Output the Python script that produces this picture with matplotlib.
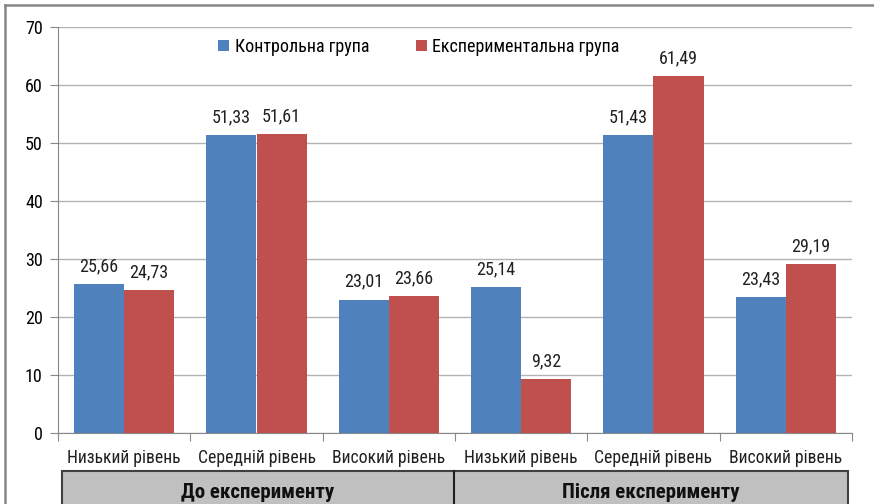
import matplotlib.pyplot as plt
import numpy as np
from matplotlib.patches import Rectangle
from matplotlib.lines import Line2D

categories = ['Низький рівень', 'Середній рівень', 'Високий рівень',
              'Низький рівень', 'Середній рівень', 'Високий рівень']
groups = ['До експерименту', 'Після експерименту']
control = [25.66, 51.33, 23.01, 25.14, 51.43, 23.43]
experimental = [24.73, 51.61, 23.66, 9.32, 61.49, 29.19]
series_names = ['Контрольна група', 'Експериментальна група']

plt.rcParams['font.family'] = ['DejaVu Sans Condensed', 'Roboto Condensed',
                               'Liberation Sans Narrow', 'Roboto', 'DejaVu Sans']

W, H = 874, 504
fig = plt.figure(figsize=(W / 100, H / 100), dpi=100)

def fx(px):
    return px / W

def fy(py):
    return 1 - py / H

# рамка навколо діаграми
fig.add_artist(Line2D([fx(5), fx(5)], [fy(5), 0], color='#868686', lw=1.8))
fig.add_artist(Line2D([fx(5), 1], [fy(5), fy(5)], color='#868686', lw=1.8))

ax = fig.add_axes([fx(58), fy(433), fx(852 - 58), (433 - 27) / H])

x = np.arange(len(categories))
w = 0.378
b1 = ax.bar(x - w / 2, control, w, color='#4f81bd', label=series_names[0], zorder=3)
b2 = ax.bar(x + w / 2, experimental, w, color='#c0504d', label=series_names[1], zorder=3)

for bars in (b1, b2):
    for r in bars:
        v = r.get_height()
        ax.text(r.get_x() + r.get_width() / 2, v + 1.5, f'{v:.2f}'.replace('.', ','),
                ha='center', va='bottom', fontsize=13, color='#202020')

ax.set_xlim(-0.5, len(categories) - 0.5)
ax.set_ylim(0, 70)
ax.set_yticks(range(0, 71, 10))
ax.tick_params(axis='y', labelsize=13, length=6, color='#888888', pad=5)
ax.yaxis.grid(True, color='#b3b3b3', lw=1, zorder=0)
ax.set_xticks(np.arange(-0.5, len(categories), 1))
ax.set_xticklabels([])
ax.tick_params(axis='x', length=6, color='#888888')
for s in ['top', 'right']:
    ax.spines[s].set_visible(False)
for s in ['left', 'bottom']:
    ax.spines[s].set_color('#888888')

for i, c in enumerate(categories):
    fig.text(fx(58 + (i + 0.5) * (852 - 58) / 6), fy(458), c,
             ha='center', va='center', fontsize=12.7, color='#202020')

# блок з групами
fig.add_artist(Rectangle((fx(62), fy(515)), fx(848 - 62), (515 - 471) / H,
                         facecolor='#c0c0c0', edgecolor='#404040', lw=1.5))
fig.add_artist(Line2D([fx(454), fx(454)], [fy(471), 0], color='#202020', lw=1.5))
fig.text(fx((62 + 454) / 2), fy(492), groups[0], ha='center', va='center',
         fontsize=15, color='#101010', fontweight='bold')
fig.text(fx((454 + 848) / 2), fy(492), groups[1], ha='center', va='center',
         fontsize=15, color='#101010', fontweight='bold')

ax.legend(loc='center', bbox_to_anchor=(fx(419 - 58) / fx(852 - 58), (433 - 47) / (433 - 27)),
          ncol=2, frameon=False, fontsize=13, handlelength=0.6, handleheight=0.6,
          handletextpad=0.3, columnspacing=2.6)

plt.savefig('out.png', dpi=100)
